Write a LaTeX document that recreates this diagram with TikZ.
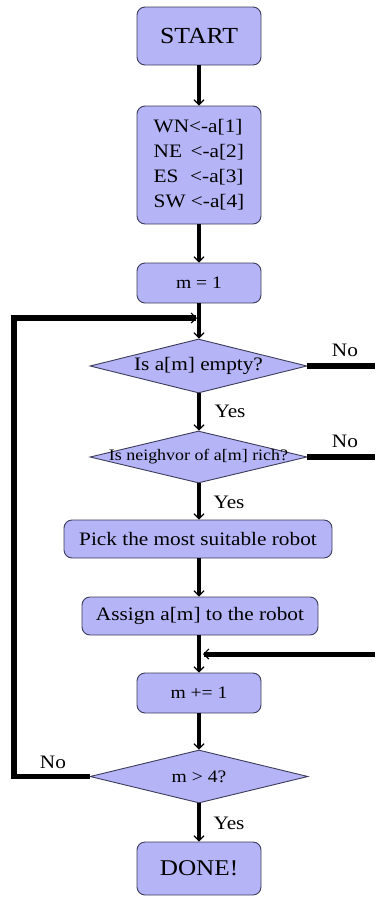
\documentclass[tikz,border=0pt]{standalone}
\usepackage{fontspec}
\setmainfont{Liberation Serif}[FakeStretch=1.12]
\usetikzlibrary{arrows.meta,shapes.geometric}
\definecolor{boxfill}{HTML}{B4B4F7}
\definecolor{boxline}{HTML}{3C3C5A}
\begin{document}
\begin{tikzpicture}[x=1pt,y=-1pt,
  stepbox/.style={draw=boxline, fill=boxfill, line width=0.9pt,
    rounded corners=8pt, inner sep=0pt, text=black},
  decision/.style={diamond, draw=boxline, fill=boxfill, line width=0.9pt,
    inner sep=0pt, aspect=4},
  flow/.style={line width=4.5pt,
    -{Straight Barb[length=5pt,width=10pt,line width=1.2pt]}},
  noline/.style={line width=6.5pt},
  lbl/.style={inner sep=0pt, font=\fontsize{19}{22}\selectfont}]
\useasboundingbox (0,0) rectangle (375,897);

% process boxes
\node[stepbox, minimum width=124pt, minimum height=58pt,
  font=\fontsize{23}{26}\selectfont] (start) at (199,36) {START};
\node[stepbox, minimum width=124pt, minimum height=118pt, align=left,
  font=\fontsize{19}{25}\selectfont] (init) at (199,165)
  {WN<-a[1]\\NE \,<-a[2]\\ES \,\,<-a[3]\\SW <-a[4]};
\node[stepbox, minimum width=124pt, minimum height=40pt,
  font=\fontsize{17.5}{20}\selectfont] (mone) at (199,283) {m = 1};

% decisions
\node[decision, minimum width=217pt, minimum height=54pt,
  label={[font=\fontsize{19}{22}\selectfont]center:Is a[m] empty?}]
  (dempty) at (198.5,366) {};
\node[decision, minimum width=217pt, minimum height=52pt,
  label={[font=\fontsize{16}{18}\selectfont]center:Is neighvor of a[m] rich?}]
  (drich) at (198.5,457) {};

\node[stepbox, minimum width=268pt, minimum height=38pt,
  font=\fontsize{19}{22}\selectfont] (pick) at (198,539)
  {Pick the most suitable robot};
\node[stepbox, minimum width=236pt, minimum height=38pt,
  font=\fontsize{19}{22}\selectfont] (assign) at (200,616)
  {Assign a[m] to the robot};
\node[stepbox, minimum width=124pt, minimum height=40pt,
  font=\fontsize{17.5}{20}\selectfont] (minc) at (199,693) {m += 1};
\node[decision, minimum width=218pt, minimum height=53pt,
  label={[font=\fontsize{17.5}{20}\selectfont]center:m > 4?}]
  (dend) at (199,776.5) {};
\node[stepbox, minimum width=124pt, minimum height=53pt,
  font=\fontsize{22.5}{26}\selectfont] (done) at (199,868.5) {DONE!};

% helper points for the loop and the side branches
\coordinate (noA) at (375,366);
\coordinate (noB) at (375,457);
\coordinate (joinR) at (375,654);
\coordinate (joinC) at (203,654);
\coordinate (loopB) at (14,776.5);
\coordinate (loopT) at (14,318);
\coordinate (loopC) at (197,318);

% main flow (all on the vertical axis of the START box)
\draw[flow] (start.south) -- (init.north);
\draw[flow] (init.south) -- (mone.north);
\draw[flow] (mone.south) -- (mone.south |- dempty.north);
\draw[flow] (dempty.south -| mone.south) -- (mone.south |- drich.north);
\draw[flow] (drich.south -| mone.south) -- (mone.south |- pick.north);
\draw[flow] (pick.south -| mone.south) -- (mone.south |- assign.north);
\draw[flow] (assign.south -| mone.south) -- (minc.north);
\draw[flow] (minc.south) -- (dend.north);
\draw[flow] (dend.south) -- (done.north);

% side branches
\draw[noline] (dempty.east) -- (noA);
\draw[noline] (drich.east) -- (noB);
\draw[flow, line width=5pt] (joinR) -- (joinC);
\draw[flow, line width=5.5pt, line join=miter] (dend.west) -- (loopB) -- (loopT) -- (loopC);

% branch labels
\node[lbl] (yesA) at (230,411) {Yes};
\node[lbl] (yesB) at (229,502) {Yes};
\node[lbl] (yesC) at (229,823) {Yes};
\node[lbl] (noLA) at (345,350) {No};
\node[lbl] (noLB) at (345,441) {No};
\node[lbl] (noLC) at (53,762) {No};
\end{tikzpicture}
\end{document}
